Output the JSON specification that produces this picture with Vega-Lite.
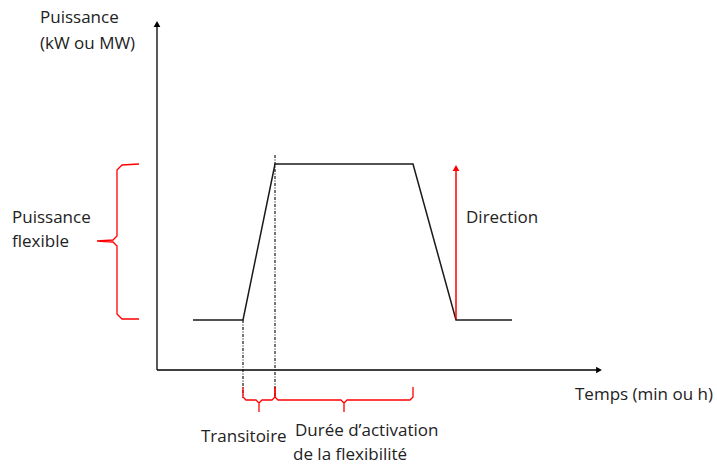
{
  "$schema": "https://vega.github.io/schema/vega-lite/v6.json",
  "width": 717,
  "height": 466,
  "autosize": {"type": "fit", "contains": "padding"},
  "padding": 0,
  "background": "white",
  "config": {"view": {"stroke": null}},
  "datasets": {
    "axes": [
      {"x": 157, "y": 96, "x2": 157, "y2": 442},
      {"x": 157, "y": 96, "x2": 598, "y2": 96}
    ],
    "heads": [
      {"x": 157, "y": 442, "dir": "up"},
      {"x": 599, "y": 96, "dir": "right"}
    ],
    "power": [
      {"t": 193, "p": 146, "o": 1},
      {"t": 243, "p": 146, "o": 2},
      {"t": 275, "p": 302, "o": 3},
      {"t": 413, "p": 302, "o": 4},
      {"t": 456, "p": 146, "o": 5},
      {"t": 512, "p": 146, "o": 6}
    ],
    "dashes": [
      {"x": 243, "y": 146, "x2": 243, "y2": 68},
      {"x": 275, "y": 311, "x2": 275, "y2": 68}
    ],
    "redarrow": [
      {"x": 456, "y": 147, "x2": 456, "y2": 296}
    ],
    "redhead": [
      {"x": 456, "y": 298}
    ],
    "braces": [
      {"b": "left", "o": 1, "x": 139, "y": 302},
      {"b": "left", "o": 2, "x": 122, "y": 301},
      {"b": "left", "o": 3, "x": 117, "y": 296},
      {"b": "left", "o": 4, "x": 117, "y": 230},
      {"b": "left", "o": 5, "x": 113, "y": 226},
      {"b": "left", "o": 6, "x": 97, "y": 225},
      {"b": "left", "o": 7, "x": 113, "y": 224},
      {"b": "left", "o": 8, "x": 117, "y": 220},
      {"b": "left", "o": 9, "x": 117, "y": 152},
      {"b": "left", "o": 10, "x": 122, "y": 147},
      {"b": "left", "o": 11, "x": 139, "y": 147},
      {"b": "b1", "o": 1, "x": 243, "y": 79},
      {"b": "b1", "o": 2, "x": 243, "y": 69},
      {"b": "b1", "o": 3, "x": 246, "y": 66},
      {"b": "b1", "o": 4, "x": 256, "y": 66},
      {"b": "b1", "o": 5, "x": 259, "y": 63},
      {"b": "b1", "o": 6, "x": 259, "y": 54},
      {"b": "b1", "o": 7, "x": 259, "y": 63},
      {"b": "b1", "o": 8, "x": 262, "y": 66},
      {"b": "b1", "o": 9, "x": 272, "y": 66},
      {"b": "b1", "o": 10, "x": 275, "y": 69},
      {"b": "b1", "o": 11, "x": 275, "y": 79},
      {"b": "b2", "o": 1, "x": 275, "y": 79},
      {"b": "b2", "o": 2, "x": 275, "y": 69},
      {"b": "b2", "o": 3, "x": 278, "y": 66},
      {"b": "b2", "o": 4, "x": 341, "y": 66},
      {"b": "b2", "o": 5, "x": 344, "y": 63},
      {"b": "b2", "o": 6, "x": 344, "y": 54},
      {"b": "b2", "o": 7, "x": 344, "y": 63},
      {"b": "b2", "o": 8, "x": 347, "y": 66},
      {"b": "b2", "o": 9, "x": 410, "y": 66},
      {"b": "b2", "o": 10, "x": 413, "y": 69},
      {"b": "b2", "o": 11, "x": 413, "y": 79}
    ],
    "labels": [
      {"x": 40, "y": 448, "text": "Puissance"},
      {"x": 40, "y": 422, "text": "(kW ou MW)"},
      {"x": 12, "y": 248, "text": "Puissance"},
      {"x": 12, "y": 224, "text": "flexible"},
      {"x": 466, "y": 248, "text": "Direction"},
      {"x": 575, "y": 71, "text": "Temps (min ou h)"},
      {"x": 201, "y": 29, "text": "Transitoire"},
      {"x": 295, "y": 35, "text": "Durée d’activation"},
      {"x": 293, "y": 11, "text": "de la flexibilité"}
    ]
  },
  "layer": [
    {
      "data": {"name": "axes"},
      "mark": {"type": "rule", "color": "#000000", "strokeWidth": 1.3},
      "encoding": {
        "x": {"field": "x", "type": "quantitative", "scale": {"domain": [0, 717], "nice": false, "zero": false}, "axis": null},
        "y": {"field": "y", "type": "quantitative", "scale": {"domain": [0, 466], "nice": false, "zero": false}, "axis": null},
        "x2": {"field": "x2"},
        "y2": {"field": "y2"}
      }
    },
    {
      "data": {"name": "dashes"},
      "mark": {"type": "rule", "color": "#1a1a1a", "strokeWidth": 1.2, "strokeDash": [3, 1.5, 1, 1.5]},
      "encoding": {
        "x": {"field": "x", "type": "quantitative"},
        "y": {"field": "y", "type": "quantitative"},
        "x2": {"field": "x2"},
        "y2": {"field": "y2"}
      }
    },
    {
      "data": {"name": "power"},
      "mark": {"type": "line", "color": "#1a1a1a", "strokeWidth": 1.5},
      "encoding": {
        "x": {"field": "t", "type": "quantitative"},
        "y": {"field": "p", "type": "quantitative"},
        "order": {"field": "o"}
      }
    },
    {
      "data": {"name": "braces"},
      "mark": {"type": "line", "color": "#ff0000", "strokeWidth": 1.3},
      "encoding": {
        "x": {"field": "x", "type": "quantitative"},
        "y": {"field": "y", "type": "quantitative"},
        "detail": {"field": "b"},
        "order": {"field": "o"}
      }
    },
    {
      "data": {"name": "redarrow"},
      "mark": {"type": "rule", "color": "#ff0000", "strokeWidth": 1.5},
      "encoding": {
        "x": {"field": "x", "type": "quantitative"},
        "y": {"field": "y", "type": "quantitative"},
        "x2": {"field": "x2"},
        "y2": {"field": "y2"}
      }
    },
    {
      "data": {"name": "redhead"},
      "mark": {"type": "point", "shape": "triangle-up", "filled": true, "color": "#ff0000", "size": 45, "opacity": 1},
      "encoding": {
        "x": {"field": "x", "type": "quantitative"},
        "y": {"field": "y", "type": "quantitative"}
      }
    },
    {
      "data": {"name": "heads"},
      "mark": {"type": "point", "filled": true, "color": "#000000", "size": 45, "opacity": 1},
      "encoding": {
        "x": {"field": "x", "type": "quantitative"},
        "y": {"field": "y", "type": "quantitative"},
        "shape": {"field": "dir", "type": "nominal", "scale": {"domain": ["up", "right"], "range": ["triangle-up", "triangle-right"]}, "legend": null}
      }
    },
    {
      "data": {"name": "labels"},
      "mark": {"type": "text", "align": "left", "baseline": "middle", "font": "Open Sans", "fontSize": 17, "color": "#222222"},
      "encoding": {
        "x": {"field": "x", "type": "quantitative"},
        "y": {"field": "y", "type": "quantitative"},
        "text": {"field": "text"}
      }
    }
  ]
}
